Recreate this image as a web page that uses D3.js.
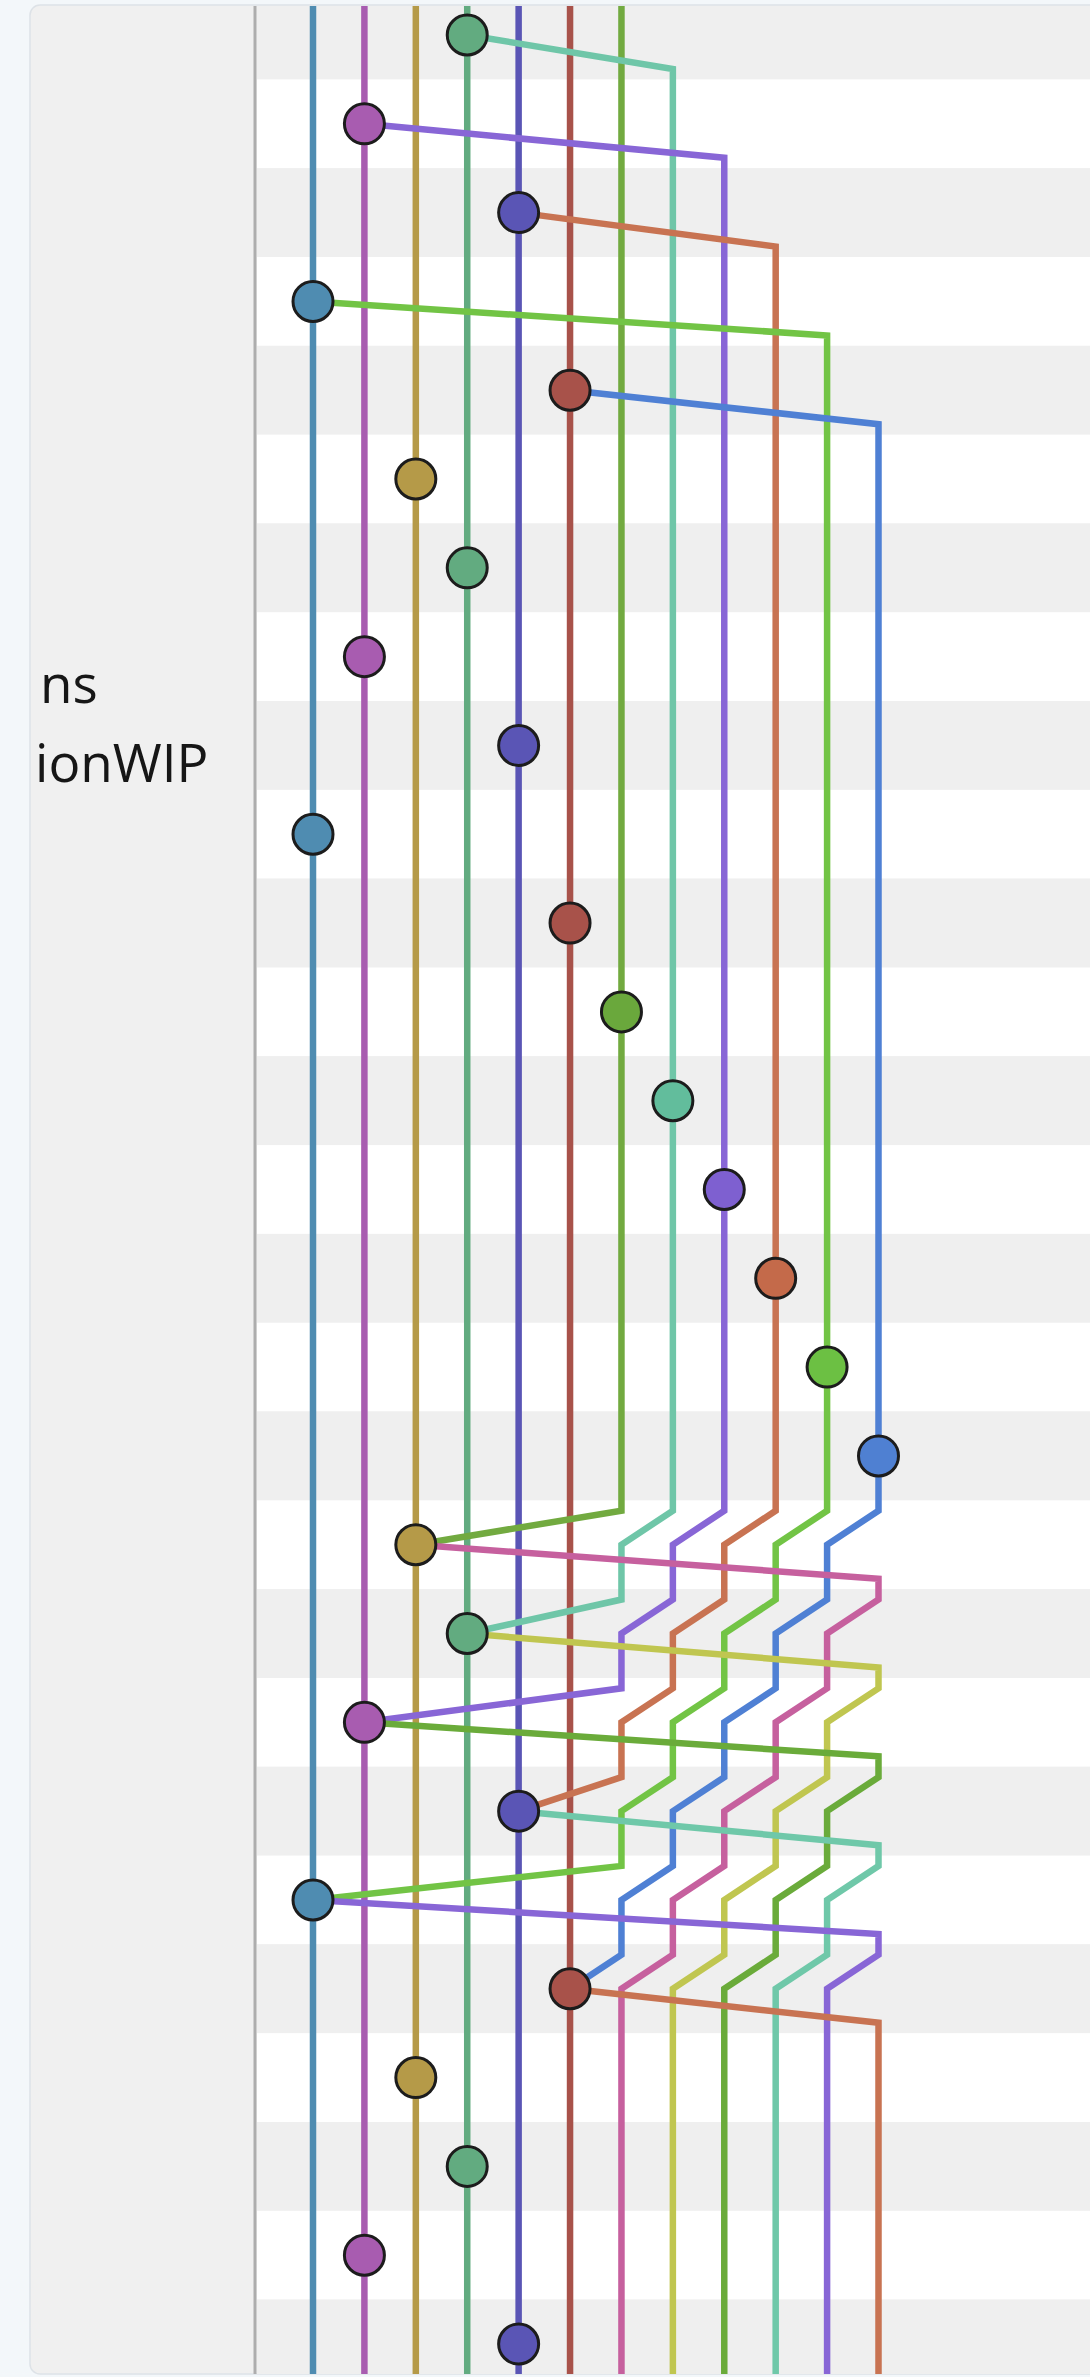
<!DOCTYPE html>
<html>
<head>
<meta charset="utf-8">
<script src="https://cdn.jsdelivr.net/npm/d3@7/dist/d3.min.js"></script>
<style>
  body { margin: 0; background: #f3f7fa; }
  svg { display: block; }
</style>
</head>
<body>
<svg id="graph"></svg>
<script>
// commits from top to bottom: the branch each commit sits on, and its lane
var commitBranch = ["green", "magenta", "indigo", "blue", "red", "gold", "green", "magenta", "indigo",
  "blue", "red", "olive", "teal", "purple", "coral", "lime", "cornflower", "gold", "green", "magenta",
  "indigo", "blue", "red", "gold", "green", "magenta", "indigo"];
var commitLane = [3, 1, 4, 0, 5, 2, 3, 1, 4, 0, 5, 6, 7, 8, 9, 10, 11, 2, 3, 1, 4, 0, 5, 2, 3, 1, 4];

// long lived lanes 0..5, they run through the whole view
var mainBranches = ["blue", "magenta", "gold", "green", "indigo", "red"];

// side branches: [lane, row, step]; step -1 = just before the row, +1 = just after
var sideBranches = ["olive", "teal", "purple", "coral", "lime", "cornflower",
  "pink", "yellow", "olive2", "teal2", "purple2", "coral2"];
var sidePoints = [
  [[6, -0.5, 0], [6, 17, -1], [2, 17, 0]],
  [[3, 0, 0], [7, 0, 1], [7, 17, -1], [6, 17, 0], [6, 18, -1], [3, 18, 0]],
  [[1, 1, 0], [8, 1, 1], [8, 17, -1], [7, 17, 0], [7, 18, -1], [6, 18, 0], [6, 19, -1], [1, 19, 0]],
  [[4, 2, 0], [9, 2, 1], [9, 17, -1], [8, 17, 0], [8, 18, -1], [7, 18, 0], [7, 19, -1], [6, 19, 0],
    [6, 20, -1], [4, 20, 0]],
  [[0, 3, 0], [10, 3, 1], [10, 17, -1], [9, 17, 0], [9, 18, -1], [8, 18, 0], [8, 19, -1], [7, 19, 0],
    [7, 20, -1], [6, 20, 0], [6, 21, -1], [0, 21, 0]],
  [[5, 4, 0], [11, 4, 1], [11, 17, -1], [10, 17, 0], [10, 18, -1], [9, 18, 0], [9, 19, -1], [8, 19, 0],
    [8, 20, -1], [7, 20, 0], [7, 21, -1], [6, 21, 0], [6, 22, -1], [5, 22, 0]],
  [[2, 17, 0], [11, 17, 1], [11, 18, -1], [10, 18, 0], [10, 19, -1], [9, 19, 0], [9, 20, -1], [8, 20, 0],
    [8, 21, -1], [7, 21, 0], [7, 22, -1], [6, 22, 0], [6, 26.5, 0]],
  [[3, 18, 0], [11, 18, 1], [11, 19, -1], [10, 19, 0], [10, 20, -1], [9, 20, 0], [9, 21, -1], [8, 21, 0],
    [8, 22, -1], [7, 22, 0], [7, 26.5, 0]],
  [[1, 19, 0], [11, 19, 1], [11, 20, -1], [10, 20, 0], [10, 21, -1], [9, 21, 0], [9, 22, -1], [8, 22, 0],
    [8, 26.5, 0]],
  [[4, 20, 0], [11, 20, 1], [11, 21, -1], [10, 21, 0], [10, 22, -1], [9, 22, 0], [9, 26.5, 0]],
  [[0, 21, 0], [11, 21, 1], [11, 22, -1], [10, 22, 0], [10, 26.5, 0]],
  [[5, 22, 0], [11, 22, 1], [11, 26.5, 0]]
];

// branch names shown (cut off) in the left column
var labels = ["ns", "ionWIP"];

var palette = {
  blue: "#4f8cb1", magenta: "#a85cb0", gold: "#b59a48", green: "#62ab80", indigo: "#5a55b5",
  red: "#a8524a", olive: "#72aa40", teal: "#6fc6a8", purple: "#8866d6", coral: "#c87352",
  lime: "#72c445", cornflower: "#4f80d4", pink: "#c6609e", yellow: "#c0c650", olive2: "#6aab3a",
  teal2: "#6fc8a9", purple2: "#8866d6", coral2: "#c87352"
};
var commitFill = {
  olive: "#6aa83c", teal: "#62bd9c", purple: "#7e60d0", coral: "#c46a4a", lime: "#6cc043",
  cornflower: "#4f80d2"
};

var width = 1090, height = 2377;
var panelTop = 5, panelBottom = 2374, panelLeft = 30, divider = 255;
var stepPx = 34;

var svg = d3.select("#graph")
  .attr("width", width)
  .attr("height", height);

var x = d3.scaleLinear().domain([0, 11]).range([313, 878.5]);
var y = d3.scaleLinear().domain([0, 26]).range([35, 2344]);
var rowH = y(1) - y(0);

svg.append("defs").append("clipPath")
  .attr("id", "panelClip")
  .append("rect")
  .attr("x", panelLeft + 1)
  .attr("y", panelTop + 1)
  .attr("width", width)
  .attr("height", panelBottom - panelTop - 1)
  .attr("rx", 10);

svg.select("defs").append("clipPath")
  .attr("id", "labelClip")
  .append("rect")
  .attr("x", panelLeft + 5)
  .attr("y", panelTop)
  .attr("width", divider - panelLeft - 8)
  .attr("height", panelBottom - panelTop);

// panel
svg.append("rect")
  .attr("x", panelLeft)
  .attr("y", panelTop)
  .attr("width", width)
  .attr("height", panelBottom - panelTop)
  .attr("rx", 10)
  .attr("fill", "#f0f0f0")
  .attr("stroke", "#dde2e7")
  .attr("stroke-width", 1.5);

var body = svg.append("g").attr("clip-path", "url(#panelClip)");

// row stripes
body.append("g")
  .selectAll("rect")
  .data(commitLane)
  .enter().append("rect")
  .attr("x", divider + 2)
  .attr("y", function(d, i) { return y(i) - rowH / 2; })
  .attr("width", width - divider)
  .attr("height", rowH)
  .attr("fill", function(d, i) { return i % 2 ? "#ffffff" : "#efefef"; });

// divider between labels and graph
body.append("line")
  .attr("x1", divider).attr("x2", divider)
  .attr("y1", panelTop).attr("y2", panelBottom)
  .attr("stroke", "#adadad")
  .attr("stroke-width", 3);

// labels
svg.append("g")
  .attr("clip-path", "url(#labelClip)")
  .selectAll("text")
  .data(labels)
  .enter().append("text")
  .attr("x", function(d, i) { return i ? 35 : 40; })
  .attr("y", function(d, i) { return 703 + i * 79; })
  .attr("font-family", "'Segoe UI', 'Open Sans', sans-serif")
  .attr("font-size", 53)
  .attr("fill", "#161616")
  .text(function(d) { return d; });

var line = d3.line()
  .x(function(p) { return x(p[0]); })
  .y(function(p) { return y(p[1]) + p[2] * stepPx; });

var lines = body.append("g")
  .attr("fill", "none")
  .attr("stroke-width", 6.5)
  .attr("stroke-linejoin", "miter");

lines.selectAll("path.main")
  .data(mainBranches)
  .enter().append("path")
  .attr("class", "main")
  .attr("d", function(d, i) { return line([[i, -0.5, 0], [i, 26.5, 0]]); })
  .attr("stroke", function(d) { return palette[d]; });

lines.selectAll("path.side")
  .data(sideBranches)
  .enter().append("path")
  .attr("class", "side")
  .attr("d", function(d, i) { return line(sidePoints[i]); })
  .attr("stroke", function(d) { return palette[d]; });

// commits
body.append("g")
  .selectAll("circle")
  .data(commitLane)
  .enter().append("circle")
  .attr("cx", function(d) { return x(d); })
  .attr("cy", function(d, i) { return y(i); })
  .attr("r", 20)
  .attr("fill", function(d, i) {
    var b = commitBranch[i];
    return commitFill[b] || palette[b];
  })
  .attr("stroke", "#1c1c1c")
  .attr("stroke-width", 3);
</script>
</body>
</html>
